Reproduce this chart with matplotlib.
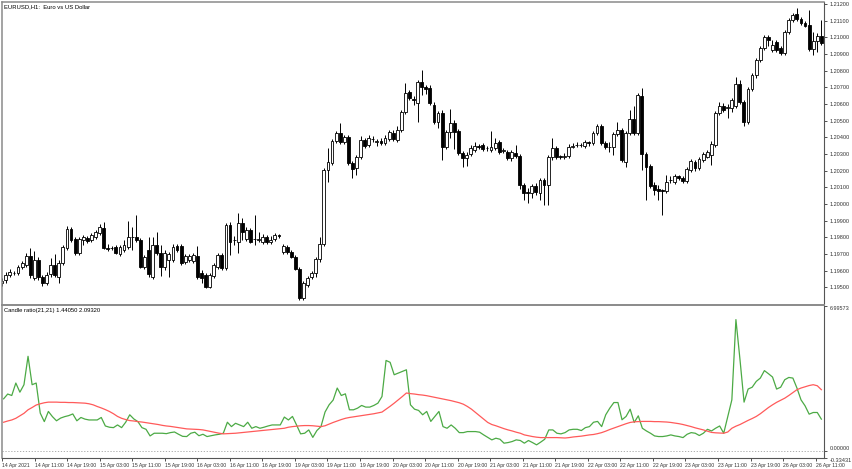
import numpy as np
import matplotlib
matplotlib.use("Agg")
import matplotlib.pyplot as plt

# ---------------- data ----------------
opens = [1.19526, 1.19544, 1.19574, 1.19586, 1.19586, 1.19622, 1.19634, 1.19688, 1.19556, 1.19664,
         1.19562, 1.19526, 1.19580, 1.19634, 1.19562, 1.19646, 1.19736, 1.19850, 1.19790, 1.19706,
         1.19784, 1.19796, 1.19784, 1.19802, 1.19826, 1.19856, 1.19736, 1.19733, 1.19742, 1.19700,
         1.19724, 1.19742, 1.19802, 1.19802, 1.19784, 1.19622, 1.19724, 1.19562, 1.19754, 1.19706,
         1.19622, 1.19664, 1.19664, 1.19748, 1.19748, 1.19652, 1.19664, 1.19658, 1.19688, 1.19586,
         1.19574, 1.19502, 1.19568, 1.19622, 1.19694, 1.19616, 1.19874, 1.19784, 1.19772, 1.19886,
         1.19790, 1.19844, 1.19790, 1.19784, 1.19772, 1.19802, 1.19772, 1.19790, 1.19811, 1.19712,
         1.19742, 1.19712, 1.19682, 1.19610, 1.19436, 1.19514, 1.19562, 1.19586, 1.19670, 1.19760,
         1.20204, 1.20246, 1.20378, 1.20426, 1.20372, 1.20402, 1.20246, 1.20216, 1.20282, 1.20384,
         1.20354, 1.20390, 1.20372, 1.20375, 1.20366, 1.20390, 1.20426, 1.20384, 1.20444, 1.20552,
         1.20672, 1.20630, 1.20606, 1.20732, 1.20702, 1.20696, 1.20594, 1.20492, 1.20546, 1.20342,
         1.20432, 1.20486, 1.20438, 1.20306, 1.20276, 1.20300, 1.20324, 1.20345, 1.20354, 1.20333,
         1.20324, 1.20336, 1.20372, 1.20318, 1.20312, 1.20276, 1.20306, 1.20288, 1.20114, 1.20072,
         1.20066, 1.20108, 1.20066, 1.20144, 1.20114, 1.20282, 1.20336, 1.20285, 1.20282, 1.20288,
         1.20345, 1.20351, 1.20351, 1.20348, 1.20369, 1.20366, 1.20426, 1.20468, 1.20366, 1.20345,
         1.20342, 1.20420, 1.20444, 1.20252, 1.20426, 1.20510, 1.20426, 1.20648, 1.20300, 1.20228,
         1.20114, 1.20087, 1.20081, 1.20078, 1.20141, 1.20132, 1.20165, 1.20156, 1.20138, 1.20204,
         1.20252, 1.20216, 1.20264, 1.20282, 1.20294, 1.20354, 1.20546, 1.20588, 1.20579, 1.20576,
         1.20588, 1.20720, 1.20612, 1.20492, 1.20690, 1.20774, 1.20864, 1.20936, 1.21002, 1.20924,
         1.20972, 1.20936, 1.20906, 1.21032, 1.21104, 1.21140, 1.21110, 1.21086, 1.21074, 1.20930,
         1.20978, 1.21008]

highs = [1.19556, 1.19592, 1.19610, 1.19598, 1.19634, 1.19658, 1.19706, 1.19736, 1.19718, 1.19682,
         1.19574, 1.19592, 1.19676, 1.19700, 1.19664, 1.19754, 1.19868, 1.19862, 1.19802, 1.19802,
         1.19814, 1.19808, 1.19826, 1.19844, 1.19880, 1.19892, 1.19760, 1.19748, 1.19754, 1.19754,
         1.19784, 1.19898, 1.19862, 1.19934, 1.19796, 1.19694, 1.19802, 1.19802, 1.19832, 1.19754,
         1.19724, 1.19712, 1.19760, 1.19760, 1.19760, 1.19700, 1.19700, 1.19706, 1.19748, 1.19604,
         1.19586, 1.19586, 1.19646, 1.19706, 1.19706, 1.19886, 1.19892, 1.19808, 1.19946, 1.19916,
         1.19862, 1.19856, 1.19934, 1.19832, 1.19820, 1.19814, 1.19808, 1.19826, 1.19820, 1.19760,
         1.19754, 1.19724, 1.19694, 1.19622, 1.19538, 1.19568, 1.19598, 1.19682, 1.19802, 1.20216,
         1.20336, 1.20390, 1.20438, 1.20486, 1.20414, 1.20414, 1.20258, 1.20294, 1.20408, 1.20396,
         1.20414, 1.20408, 1.20390, 1.20396, 1.20414, 1.20444, 1.20444, 1.20468, 1.20564, 1.20726,
         1.20684, 1.20648, 1.20744, 1.20804, 1.20714, 1.20714, 1.20612, 1.20558, 1.20564, 1.20444,
         1.20570, 1.20504, 1.20450, 1.20318, 1.20312, 1.20354, 1.20372, 1.20360, 1.20366, 1.20348,
         1.20438, 1.20396, 1.20384, 1.20336, 1.20324, 1.20324, 1.20354, 1.20300, 1.20126, 1.20096,
         1.20120, 1.20126, 1.20156, 1.20156, 1.20294, 1.20396, 1.20348, 1.20294, 1.20306, 1.20360,
         1.20366, 1.20372, 1.20366, 1.20384, 1.20378, 1.20438, 1.20480, 1.20480, 1.20378, 1.20372,
         1.20432, 1.20492, 1.20456, 1.20438, 1.20564, 1.20588, 1.20666, 1.20696, 1.20312, 1.20240,
         1.20132, 1.20114, 1.20090, 1.20174, 1.20168, 1.20180, 1.20174, 1.20168, 1.20222, 1.20270,
         1.20264, 1.20282, 1.20312, 1.20324, 1.20378, 1.20558, 1.20612, 1.20606, 1.20600, 1.20636,
         1.20762, 1.20744, 1.20624, 1.20702, 1.20786, 1.20876, 1.20948, 1.21014, 1.21014, 1.20984,
         1.20984, 1.20948, 1.21044, 1.21116, 1.21146, 1.21176, 1.21122, 1.21098, 1.21164, 1.21032,
         1.21026, 1.21104]

lows = [1.19508, 1.19526, 1.19562, 1.19574, 1.19574, 1.19610, 1.19622, 1.19556, 1.19544, 1.19544,
        1.19508, 1.19514, 1.19562, 1.19562, 1.19526, 1.19634, 1.19724, 1.19772, 1.19694, 1.19694,
        1.19754, 1.19766, 1.19772, 1.19790, 1.19814, 1.19730, 1.19718, 1.19724, 1.19700, 1.19688,
        1.19712, 1.19730, 1.19724, 1.19772, 1.19616, 1.19610, 1.19562, 1.19550, 1.19694, 1.19568,
        1.19604, 1.19562, 1.19652, 1.19712, 1.19634, 1.19640, 1.19652, 1.19646, 1.19550, 1.19526,
        1.19496, 1.19496, 1.19556, 1.19610, 1.19604, 1.19604, 1.19694, 1.19754, 1.19706, 1.19784,
        1.19778, 1.19766, 1.19754, 1.19772, 1.19760, 1.19760, 1.19760, 1.19778, 1.19796, 1.19700,
        1.19700, 1.19676, 1.19604, 1.19424, 1.19424, 1.19502, 1.19550, 1.19562, 1.19652, 1.19748,
        1.20132, 1.20234, 1.20366, 1.20360, 1.20360, 1.20234, 1.20156, 1.20174, 1.20270, 1.20336,
        1.20342, 1.20372, 1.20348, 1.20354, 1.20354, 1.20378, 1.20378, 1.20372, 1.20432, 1.20540,
        1.20624, 1.20594, 1.20492, 1.20654, 1.20660, 1.20594, 1.20480, 1.20456, 1.20264, 1.20330,
        1.20396, 1.20330, 1.20294, 1.20222, 1.20228, 1.20288, 1.20312, 1.20330, 1.20318, 1.20318,
        1.20312, 1.20324, 1.20300, 1.20306, 1.20264, 1.20258, 1.20276, 1.20090, 1.20024, 1.20006,
        1.20036, 1.20054, 1.20024, 1.19994, 1.19994, 1.20264, 1.20270, 1.20270, 1.20270, 1.20276,
        1.20336, 1.20342, 1.20342, 1.20336, 1.20348, 1.20354, 1.20414, 1.20354, 1.20330, 1.20312,
        1.20294, 1.20408, 1.20252, 1.20222, 1.20414, 1.20414, 1.20414, 1.20204, 1.20024, 1.20096,
        1.20054, 1.20024, 1.19934, 1.20066, 1.20126, 1.20120, 1.20144, 1.20126, 1.20126, 1.20192,
        1.20198, 1.20204, 1.20252, 1.20276, 1.20234, 1.20342, 1.20534, 1.20552, 1.20516, 1.20552,
        1.20576, 1.20600, 1.20468, 1.20480, 1.20678, 1.20756, 1.20852, 1.20924, 1.20948, 1.20912,
        1.20912, 1.20894, 1.20894, 1.21020, 1.21092, 1.21098, 1.21074, 1.21062, 1.20918, 1.20894,
        1.20912, 1.20954]

closes = [1.19538, 1.19574, 1.19592, 1.19583, 1.19622, 1.19646, 1.19688, 1.19574, 1.19664, 1.19562,
          1.19526, 1.19574, 1.19634, 1.19574, 1.19646, 1.19742, 1.19850, 1.19784, 1.19706, 1.19790,
          1.19802, 1.19778, 1.19814, 1.19832, 1.19862, 1.19736, 1.19730, 1.19736, 1.19706, 1.19742,
          1.19754, 1.19802, 1.19799, 1.19784, 1.19622, 1.19682, 1.19580, 1.19754, 1.19706, 1.19622,
          1.19706, 1.19700, 1.19742, 1.19724, 1.19646, 1.19688, 1.19688, 1.19694, 1.19562, 1.19556,
          1.19502, 1.19574, 1.19634, 1.19694, 1.19616, 1.19874, 1.19772, 1.19781, 1.19886, 1.19832,
          1.19844, 1.19772, 1.19787, 1.19787, 1.19802, 1.19772, 1.19784, 1.19814, 1.19805, 1.19748,
          1.19712, 1.19682, 1.19610, 1.19436, 1.19526, 1.19556, 1.19586, 1.19670, 1.19760, 1.20204,
          1.20252, 1.20378, 1.20426, 1.20372, 1.20402, 1.20246, 1.20210, 1.20282, 1.20384, 1.20348,
          1.20396, 1.20387, 1.20375, 1.20369, 1.20396, 1.20432, 1.20390, 1.20444, 1.20552, 1.20666,
          1.20636, 1.20624, 1.20732, 1.20702, 1.20690, 1.20606, 1.20492, 1.20546, 1.20342, 1.20432,
          1.20486, 1.20432, 1.20306, 1.20276, 1.20294, 1.20336, 1.20348, 1.20339, 1.20330, 1.20336,
          1.20342, 1.20366, 1.20312, 1.20324, 1.20276, 1.20312, 1.20288, 1.20114, 1.20066, 1.20066,
          1.20108, 1.20072, 1.20144, 1.20114, 1.20282, 1.20336, 1.20282, 1.20279, 1.20285, 1.20342,
          1.20348, 1.20354, 1.20354, 1.20372, 1.20363, 1.20426, 1.20468, 1.20366, 1.20342, 1.20342,
          1.20420, 1.20444, 1.20264, 1.20426, 1.20510, 1.20426, 1.20654, 1.20300, 1.20222, 1.20108,
          1.20084, 1.20081, 1.20075, 1.20132, 1.20144, 1.20168, 1.20159, 1.20138, 1.20210, 1.20258,
          1.20216, 1.20270, 1.20300, 1.20312, 1.20360, 1.20546, 1.20588, 1.20564, 1.20582, 1.20624,
          1.20720, 1.20612, 1.20492, 1.20690, 1.20774, 1.20864, 1.20936, 1.21002, 1.20984, 1.20954,
          1.20924, 1.20906, 1.21032, 1.21104, 1.21134, 1.21110, 1.21086, 1.21068, 1.20930, 1.20978,
          1.21008, 1.20966]

ratio_line = [2.52, 2.75, 2.68, 3.28, 2.84, 3.20, 4.57, 3.20, 3.28, 1.83,
              1.42, 1.91, 1.66, 1.46, 1.59, 1.66, 1.71, 1.79, 1.46, 1.62,
              1.54, 1.50, 1.50, 1.50, 1.62, 1.21, 1.15, 1.13, 1.26, 1.13,
              1.39, 1.75, 1.55, 1.42, 1.13, 1.05, 0.73, 0.86, 0.86, 0.86,
              0.84, 0.89, 0.92, 0.81, 0.71, 0.70, 0.86, 0.91, 0.74, 0.81,
              0.70, 0.74, 0.78, 0.81, 0.86, 1.39, 1.18, 1.34, 1.26, 1.18,
              1.39, 1.10, 1.18, 1.10, 1.15, 1.21, 1.26, 1.26, 1.26, 1.64,
              1.50, 1.67, 1.26, 0.83, 0.86, 1.02, 0.66, 0.99, 1.18, 1.88,
              2.23, 2.46, 3.04, 2.68, 2.76, 1.99, 1.99, 2.07, 2.20, 2.12,
              2.12, 2.20, 2.31, 2.63, 4.37, 4.28, 3.68, 3.76, 3.84, 3.92,
              2.23, 2.02, 1.96, 1.75, 1.91, 1.43, 1.67, 1.91, 1.18, 1.10,
              1.26, 1.10, 0.89, 0.89, 0.94, 0.94, 0.94, 0.91, 0.78, 0.66,
              0.54, 0.62, 0.57, 0.38, 0.41, 0.46, 0.54, 0.51, 0.38, 0.51,
              0.41, 0.30, 0.43, 0.57, 1.02, 1.02, 0.86, 0.83, 0.89, 1.02,
              1.05, 1.05, 0.99, 1.13, 1.18, 1.39, 1.43, 1.18, 1.75, 2.07,
              2.34, 2.34, 1.51, 1.67, 2.02, 1.38, 1.70, 1.10, 0.97, 0.86,
              0.73, 0.70, 0.70, 0.73, 0.78, 0.73, 0.70, 0.65, 0.81, 0.89,
              0.86, 0.75, 0.86, 1.05, 0.97, 1.10, 1.21, 0.86, 1.67, 2.47,
              6.34, 4.41, 2.36, 2.99, 3.08, 3.36, 3.52, 3.88, 3.73, 3.57,
              2.99, 3.08, 3.44, 3.55, 3.52, 3.04, 2.47, 2.18, 1.78, 1.86,
              1.86, 1.54]

signal_line = [1.39, 1.45, 1.50, 1.58, 1.70, 1.82, 1.99, 2.10, 2.22, 2.28,
               2.33, 2.36, 2.36, 2.36, 2.35, 2.35, 2.34, 2.34, 2.33, 2.32,
               2.31, 2.28, 2.23, 2.15, 2.08, 2.00, 1.91, 1.80, 1.67, 1.58,
               1.52, 1.47, 1.45, 1.42, 1.40, 1.37, 1.34, 1.31, 1.28, 1.24,
               1.21, 1.19, 1.16, 1.13, 1.10, 1.07, 1.06, 1.05, 1.04, 1.02,
               0.98, 0.94, 0.90, 0.86, 0.83, 0.84, 0.85, 0.86, 0.88, 0.90,
               0.92, 0.94, 0.96, 0.98, 1.00, 1.02, 1.04, 1.06, 1.08, 1.10,
               1.15, 1.18, 1.20, 1.22, 1.23, 1.23, 1.22, 1.20, 1.18, 1.22,
               1.30, 1.38, 1.45, 1.52, 1.58, 1.62, 1.65, 1.68, 1.71, 1.74,
               1.77, 1.80, 1.84, 1.88, 2.02, 2.16, 2.31, 2.47, 2.63, 2.80,
               2.77, 2.75, 2.72, 2.70, 2.67, 2.63, 2.59, 2.55, 2.51, 2.47,
               2.43, 2.38, 2.33, 2.26, 2.15, 2.02, 1.86, 1.70, 1.54, 1.38,
               1.28, 1.22, 1.15, 1.08, 1.02, 0.97, 0.91, 0.86, 0.78, 0.74,
               0.70, 0.67, 0.65, 0.65, 0.65, 0.65, 0.65, 0.64, 0.63, 0.65,
               0.68, 0.70, 0.72, 0.75, 0.78, 0.80, 0.84, 0.89, 0.96, 1.04,
               1.11, 1.18, 1.25, 1.32, 1.38, 1.41, 1.42, 1.43, 1.43, 1.43,
               1.42, 1.42, 1.41, 1.40, 1.38, 1.35, 1.32, 1.28, 1.23, 1.18,
               1.12, 1.07, 1.02, 0.96, 0.90, 0.88, 0.87, 0.86, 0.92, 1.10,
               1.20, 1.28, 1.38, 1.48, 1.57, 1.67, 1.80, 1.95, 2.10, 2.23,
               2.35, 2.45, 2.55, 2.68, 2.82, 2.96, 3.04, 3.10, 3.16, 3.20,
               3.15, 2.96]

time_label_bars = [0, 8, 16, 24, 32, 40, 48, 56, 64, 72, 80, 88, 96, 104, 112,
                   120, 128, 136, 144, 152, 160, 168, 176, 184, 192, 200]
time_labels = ["14 Apr 2021", "14 Apr 11:00", "14 Apr 19:00", "15 Apr 03:00",
               "15 Apr 11:00", "15 Apr 19:00", "16 Apr 03:00", "16 Apr 11:00",
               "16 Apr 19:00", "19 Apr 03:00", "19 Apr 11:00", "19 Apr 19:00",
               "20 Apr 03:00", "20 Apr 11:00", "20 Apr 19:00", "21 Apr 03:00",
               "21 Apr 11:00", "21 Apr 19:00", "22 Apr 03:00", "22 Apr 11:00",
               "22 Apr 19:00", "23 Apr 03:00", "23 Apr 11:00", "23 Apr 19:00",
               "26 Apr 03:00", "26 Apr 11:00"]
price_ticks = [1.195, 1.196, 1.197, 1.198, 1.199, 1.200, 1.201, 1.202, 1.203,
               1.204, 1.205, 1.206, 1.207, 1.208, 1.209, 1.210, 1.211, 1.212]
ind_ticks = [6.99573, 0.0, -0.33431]

title_main = "EURUSD,H1:  Euro vs US Dollar"
title_ind = "Candle ratio(21,21) 1.44050 2.09320"

# ---------------- figure ----------------
plt.rcParams['font.family'] = ['Liberation Sans', 'DejaVu Sans']
W, H = 852, 469
fig = plt.figure(figsize=(W / 100, H / 100), dpi=100)
fig.patch.set_facecolor('white')


def rect(x0, y0, x1, y1):
    return [x0 / W, 1 - y1 / H, (x1 - x0) / W, (y1 - y0) / H]


ax1 = fig.add_axes(rect(2, 2, 824, 304.5))
ax2 = fig.add_axes(rect(2, 306.0, 824, 458))

o = np.array(opens); h = np.array(highs); l = np.array(lows); c = np.array(closes)
x = np.arange(len(o))
up = c >= o

ax1.vlines(x, l, h, color='black', linewidth=0.7, zorder=1)
ax1.bar(x, np.abs(c - o), bottom=np.minimum(o, c), width=0.7,
        color=np.where(up, 'white', 'black'), edgecolor='black',
        linewidth=0.6, zorder=2)

ax1.set_xlim(0.07, 201.65)
ax1.set_ylim(1.19397, 1.21212)
ax1.yaxis.tick_right()
ax1.set_yticks(price_ticks)
ax1.set_yticklabels([f"{v:.5f}" for v in price_ticks])
ax1.tick_params(axis='y', direction='out', length=2.5, width=0.6, labelsize=4,
                pad=1.5, colors='#333333')
ax1.set_xticks([])
ax1.text(0.003, 0.993, title_main, transform=ax1.transAxes, fontsize=4.2,
         va='top', ha='left', color='black')

# indicator
ax2.plot(x, ratio_line, color='#4caa45', linewidth=0.9)
ax2.plot(x, signal_line, color='#ff5a5a', linewidth=0.9)
ax2.axhline(0.0, color='#a0a0a0', linewidth=0.6, linestyle=(0, (1.5, 2)))
ax2.set_xlim(0.07, 201.65)
ax2.set_ylim(-0.33431, 6.99573)
ax2.yaxis.tick_right()
ax2.set_yticks(ind_ticks)
ax2.set_yticklabels([f"{v:.5f}" for v in ind_ticks])
lbls = ax2.get_yticklabels()
lbls[0].set_va('top')
lbls[1].set_va('bottom')
lbls[2].set_va('top')
ax2.tick_params(axis='y', direction='out', length=2.5, width=0.6, labelsize=4,
                pad=1.5, colors='#333333')
ax2.set_xticks([b - 0.4 for b in time_label_bars])
ax2.set_xticklabels(time_labels, ha='left')
ax2.tick_params(axis='x', direction='out', length=2.5, width=0.6, labelsize=3.7,
                pad=1.0, colors='#333333')
ax2.text(0.003, 0.985, title_ind, transform=ax2.transAxes, fontsize=4.2,
         va='top', ha='left', color='black')

for ax in (ax1, ax2):
    ax.set_facecolor('white')
    for s in ('left', 'top', 'bottom'):
        ax.spines[s].set_color('#8a8a8a')
        ax.spines[s].set_linewidth(1.1)
    ax.spines['right'].set_color('#555555')
    ax.spines['right'].set_linewidth(0.8)
ax1.spines['bottom'].set_linewidth(1.4)
ax2.spines['top'].set_visible(False)
ax2.spines['bottom'].set_color('#555555')
ax2.spines['bottom'].set_linewidth(0.8)

fig.savefig('out.png', dpi=100)
